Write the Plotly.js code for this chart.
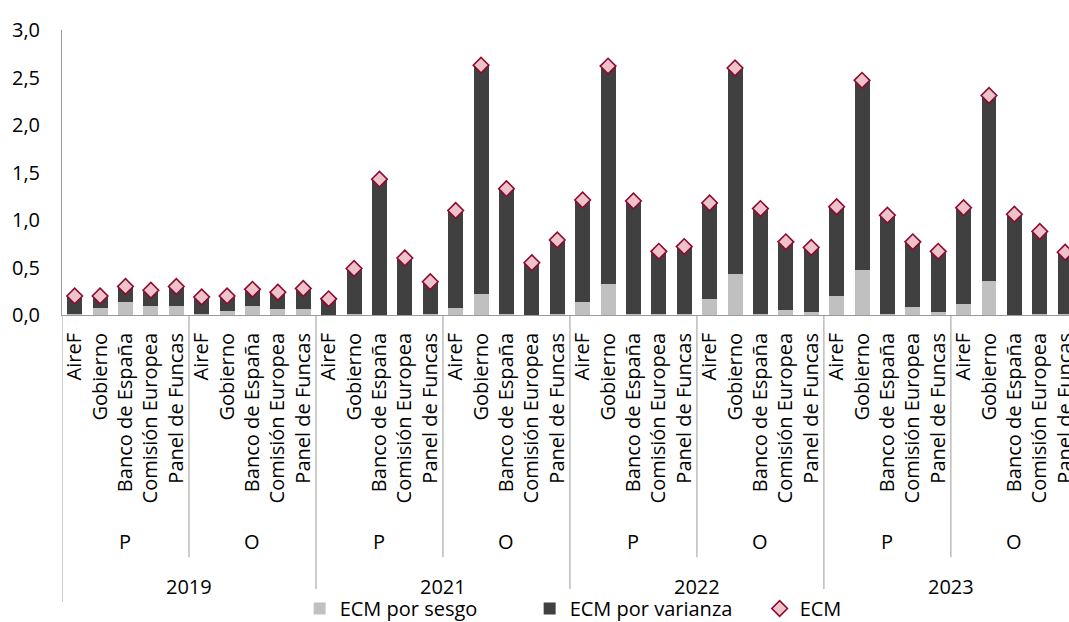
<!DOCTYPE html>
<html>
<head>
<meta charset="utf-8">
<script src="https://cdn.plot.ly/plotly-3.0.1.min.js"></script>
<style>
html,body{margin:0;padding:0;overflow:hidden;background:#fff;}
#chart{width:1069px;height:622px;}
</style>
</head>
<body>
<div id="chart"></div>
<script>
// ---- Data ----
const years = ['2019', '2021', '2022', '2023'];
const periods = ['P', 'O'];
const institutions = ['AireF', 'Gobierno', 'Banco de España', 'Comisión Europea', 'Panel de Funcas'];

// ECM por sesgo (bias component), ordered year > period > institution
const ecmSesgo = [
  0.01, 0.07, 0.14, 0.10, 0.10,   // 2019 P
  0.01, 0.04, 0.09, 0.06, 0.06,   // 2019 O
  0.00, 0.01, 0.00, 0.00, 0.01,   // 2021 P
  0.07, 0.22, 0.01, 0.00, 0.01,   // 2021 O
  0.14, 0.33, 0.01, 0.01, 0.01,   // 2022 P
  0.17, 0.43, 0.01, 0.05, 0.03,   // 2022 O
  0.20, 0.47, 0.01, 0.08, 0.03,   // 2023 P
  0.12, 0.36, 0.00, 0.01, 0.01    // 2023 O
];
// ECM por varianza (variance component)
const ecmVarianza = [
  0.19, 0.13, 0.16, 0.16, 0.20,
  0.18, 0.16, 0.18, 0.18, 0.22,
  0.17, 0.48, 1.43, 0.60, 0.34,
  1.03, 2.41, 1.32, 0.55, 0.78,
  1.07, 2.29, 1.19, 0.66, 0.71,
  1.01, 2.17, 1.11, 0.72, 0.68,
  0.94, 2.00, 1.04, 0.69, 0.64,
  1.01, 1.95, 1.06, 0.87, 0.65
];
// ECM total
const ecmTotal = [
  0.20, 0.20, 0.30, 0.26, 0.30,
  0.19, 0.20, 0.27, 0.24, 0.28,
  0.17, 0.49, 1.43, 0.60, 0.35,
  1.10, 2.63, 1.33, 0.55, 0.79,
  1.21, 2.62, 1.20, 0.67, 0.72,
  1.18, 2.60, 1.12, 0.77, 0.71,
  1.14, 2.47, 1.05, 0.77, 0.67,
  1.13, 2.31, 1.06, 0.88, 0.66
];

// ---- Build category positions ----
const xPos = [];
const tickText = [];
years.forEach(function(){ periods.forEach(function(){ institutions.forEach(function(inst){
  xPos.push(xPos.length); tickText.push(inst);
});});});

const FONT = '"Open Sans", Lato, sans-serif';
const nInst = institutions.length;
const nPer = periods.length;

const traces = [
  {type:'bar', name:'ECM por sesgo', x:xPos, y:ecmSesgo,
   marker:{color:'#C0C0C0', line:{width:0}}, hoverinfo:'skip'},
  {type:'bar', name:'ECM por varianza', x:xPos, y:ecmVarianza,
   marker:{color:'#404040', line:{width:0}}, hoverinfo:'skip'},
  {type:'scatter', mode:'markers', name:'ECM', x:xPos, y:ecmTotal,
   marker:{symbol:'diamond', size:12, color:'#EEC2C9', line:{color:'#8C0A32', width:1.6}},
   hoverinfo:'skip'}
];

const annotations = [];
const shapes = [];
const axisGray = '#9a9a9a';
years.forEach(function(yr, yi){
  periods.forEach(function(p, pi){
    const start = (yi*nPer + pi)*nInst;
    annotations.push({x:start + (nInst-1)/2, y:-0.793, xref:'x', yref:'paper',
      text:p, showarrow:false, yanchor:'middle', font:{family:FONT, size:20, color:'#000'}});
    if (pi > 0) {
      shapes.push({type:'line', xref:'x', yref:'paper', x0:start-0.5, x1:start-0.5, y0:0, y1:-0.85,
        line:{color:axisGray, width:1}});
    }
  });
  const ys = yi*nPer*nInst;
  annotations.push({x:ys + (nPer*nInst-1)/2, y:-0.954, xref:'x', yref:'paper',
    text:yr, showarrow:false, yanchor:'middle', font:{family:FONT, size:20, color:'#000'}});
  shapes.push({type:'line', xref:'x', yref:'paper', x0:ys-0.5, x1:ys-0.5, y0:0, y1:-1.007,
    line:{color:axisGray, width:1}});
});

const layout = {
  width:1069, height:622,
  margin:{l:62, r:0, t:30, b:307, autoexpand:false},
  paper_bgcolor:'#fff', plot_bgcolor:'#fff',
  separators:',.',
  barmode:'stack', bargap:0.41,
  font:{family:FONT, size:20, color:'#000'},
  showlegend:true,
  legend:{orientation:'h', traceorder:'normal', x:0.236, xanchor:'left', y:-1.03, yanchor:'middle',
    font:{family:FONT, size:20, color:'#000'}, itemwidth:30, tracegroupgap:0,
    entrywidth:185, entrywidthmode:'pixels'},
  xaxis:{range:[-0.5, 39.15], tickmode:'array', tickvals:xPos, ticktext:tickText,
    tickangle:-90, showline:true, linecolor:axisGray, linewidth:1, showgrid:false,
    zeroline:false, ticks:'', ticklabelstandoff:9, ticklabeloverflow:'allow',
    tickfont:{family:FONT, size:20, color:'#000'}, fixedrange:true},
  yaxis:{range:[0,3], dtick:0.5, tick0:0, tickformat:'.1f', showline:true, linecolor:axisGray,
    linewidth:1, showgrid:false, zeroline:false, ticks:'', ticklabelstandoff:17,
    tickfont:{family:FONT, size:20, color:'#000'}, fixedrange:true},
  annotations:annotations,
  shapes:shapes
};

Plotly.newPlot('chart', traces, layout, {staticPlot:true, displayModeBar:false});
</script>
</body>
</html>
